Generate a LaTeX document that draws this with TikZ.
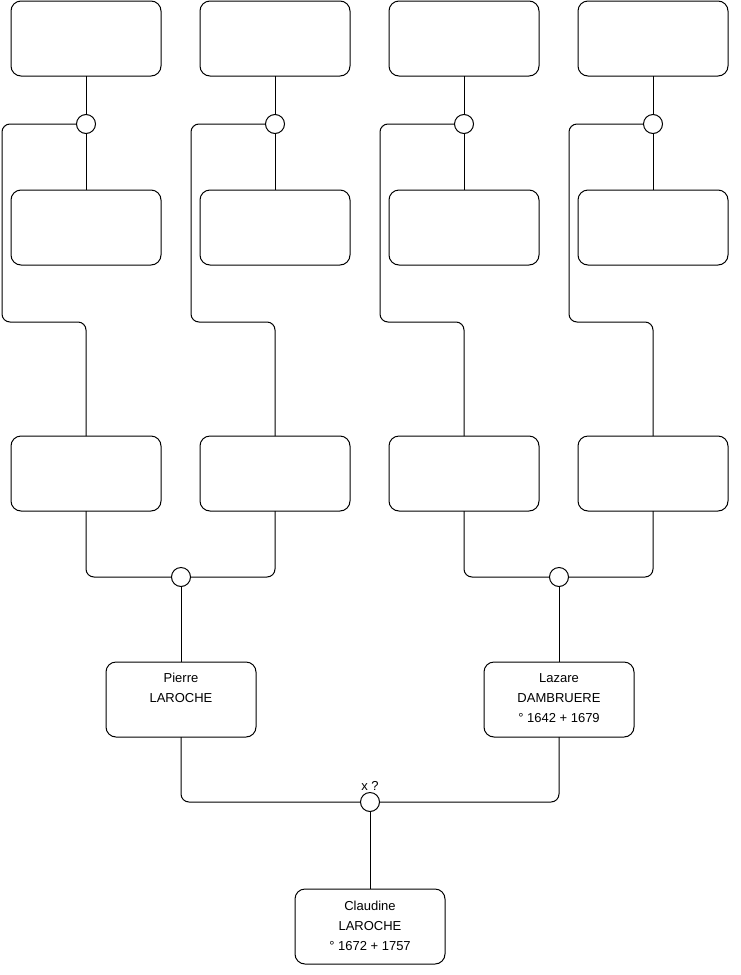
\documentclass[tikz,border=0pt]{standalone}
\usepackage{fontspec}
\setmainfont{Liberation Sans}
\begin{document}
\begin{tikzpicture}[x=1pt,y=-1pt,
  line width=1pt,
  box/.style={draw, rounded corners=10pt, minimum width=150pt, minimum height=75pt, inner sep=0pt, outer sep=0pt},
  dot/.style={draw, circle, minimum size=19pt, inner sep=0pt, outer sep=0pt, fill=white},
  txt/.style={font=\fontsize{13}{20}\selectfont, align=center, inner sep=0pt, anchor=north},
  conn/.style={rounded corners=8pt}]
\useasboundingbox (0,0) rectangle (740,975);
% top row
\node[box] (t1) at (86,38.5) {};
\node[box] (t2) at (275,38.5) {};
\node[box] (t3) at (464,38.5) {};
\node[box] (t4) at (653,38.5) {};
% middle row
\node[box] (m1) at (86,227.5) {};
\node[box] (m2) at (275,227.5) {};
\node[box] (m3) at (464,227.5) {};
\node[box] (m4) at (653,227.5) {};
% third row
\node[box] (b1) at (86,473.5) {};
\node[box] (b2) at (275,473.5) {};
\node[box] (b3) at (464,473.5) {};
\node[box] (b4) at (653,473.5) {};
% parents and child
\node[box] (pierre) at (181,699.5) {};
\node[box] (lazare) at (559,699.5) {};
\node[box] (claudine) at (370,926.5) {};
\node[txt] (pierre-t) at ([yshift=-11pt]pierre.north) {Pierre\\LAROCHE};
\node[txt] (lazare-t) at ([yshift=-11pt]lazare.north) {Lazare\\DAMBRUERE\\° 1642 + 1679};
\node[txt] (claudine-t) at ([yshift=-12pt]claudine.north) {Claudine\\LAROCHE\\° 1672 + 1757};
% circles
\node[dot] (c1) at (86,124) {};
\node[dot] (c2) at (275,124) {};
\node[dot] (c3) at (464,124) {};
\node[dot] (c4) at (653,124) {};
\node[dot] (cp) at (181,577) {};
\node[dot] (cl) at (559,577) {};
\node[dot] (cx) at (370,802) {};
\node[font=\fontsize{13}{15}\selectfont, inner sep=0pt, anchor=base] (cx-t) at ([yshift=2pt]cx.north) {x ?};
% connectors top part
\foreach \i/\lx in {1/2,2/191,3/380,4/569}{
  \draw (t\i.south) -- (c\i.north);
  \draw (c\i.south) -- (m\i.north);
  \draw[conn] (c\i.west) -| (\lx,322) -| (b\i.north);
}
% third row to parents
\draw[conn] (b1.south) |- (cp.west);
\draw[conn] (b2.south) |- (cp.east);
\draw[conn] (b3.south) |- (cl.west);
\draw[conn] (b4.south) |- (cl.east);
\draw (cp.south) -- (pierre.north);
\draw (cl.south) -- (lazare.north);
% parents to child
\draw[conn] (pierre.south) |- (cx.west);
\draw[conn] (lazare.south) |- (cx.east);
\draw (cx.south) -- (claudine.north);
\end{tikzpicture}
\end{document}
